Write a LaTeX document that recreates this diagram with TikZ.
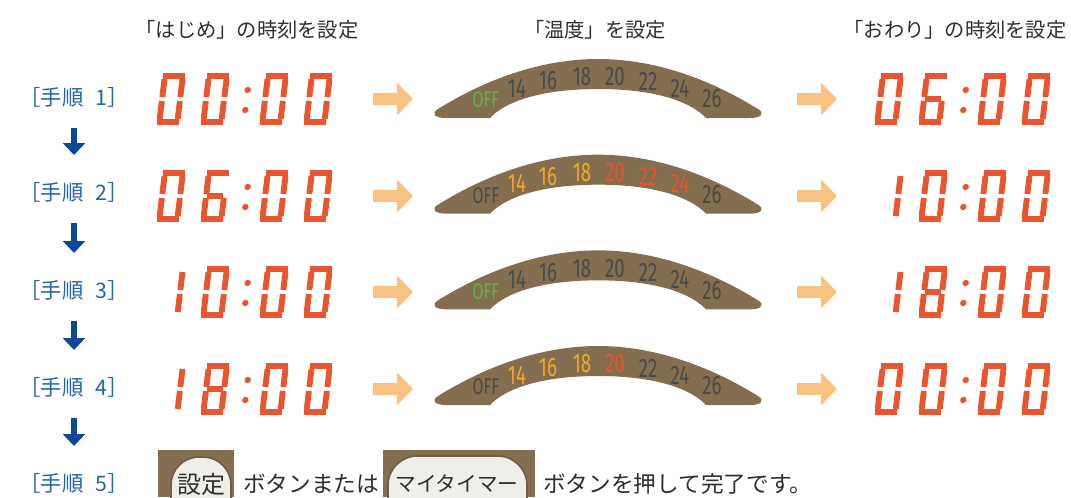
\documentclass[tikz,border=0pt]{standalone}
\usepackage{fontspec}
\usepackage{xcolor}
\usepackage{tikz}
\usetikzlibrary{arrows.meta,positioning,calc}
\newfontfamily\jpfont{Noto Sans CJK JP}
\newfontfamily\dialfont[FakeStretch=0.7]{Fira Sans}
\definecolor{segRed}{HTML}{E9552E}
\definecolor{arrOrange}{HTML}{F8C282}
\definecolor{dialBrown}{HTML}{836E50}
\definecolor{numGray}{HTML}{4A4A48}
\definecolor{numGreen}{HTML}{62B245}
\definecolor{numYellow}{HTML}{F4A52A}
\definecolor{numRed}{HTML}{E8552E}
\definecolor{stepBlue}{HTML}{2463AE}
\definecolor{arrBlue}{HTML}{0C4A95}
\definecolor{btnLight}{HTML}{EFEEE9}
\definecolor{txtGray}{HTML}{2E2E2E}

\tikzset{
  segline/.style={segRed, line width=4.4pt},
  header/.style={font=\jpfont\fontsize{15.2pt}{18pt}\selectfont, text=txtGray, inner sep=0pt},
  steplabel/.style={font=\jpfont\fontsize{16pt}{19pt}\selectfont, text=stepBlue, inner sep=0pt},
  steparrow/.style={arrBlue, line width=5pt, -{Triangle[width=16.5pt,length=9pt]},
    shorten <=23.25pt, shorten >=27.75pt},
  hotarrow/.style={arrOrange, line width=9.5pt, -{Triangle[width=24pt,length=12pt]}},
  dialnum/.style={font=\dialfont\fontsize{20pt}{20pt}\selectfont, inner sep=0pt},
  btntext/.style={font=\jpfont\fontsize{17pt}{20pt}\selectfont, text=txtGray, inner sep=0pt},
  btnpill/.style={fill=btnLight, draw=dialBrown!85!black, line width=1.2pt}
}
% seven segments, local box 24 x 52 (y up)
\pgfkeys{/seg/.cd,
  a/.code={\draw[segline] (1,49) -- (23,49);},
  b/.code={\draw[segline] (21,46) -- (21,28);},
  c/.code={\draw[segline] (21,24) -- (21,6);},
  d/.code={\draw[segline] (1,3) -- (23,3);},
  e/.code={\draw[segline] (3,24) -- (3,6);},
  f/.code={\draw[segline] (3,46) -- (3,28);},
  g/.code={\draw[segline] (4,26) -- (20,26);}
}
\pgfkeys{/digit/.cd,
  0/.code={\pgfkeys{/seg/a,/seg/b,/seg/c,/seg/d,/seg/e,/seg/f}},
  1/.code={\pgfkeys{/seg/b,/seg/c}},
  6/.code={\pgfkeys{/seg/a,/seg/c,/seg/d,/seg/e,/seg/f,/seg/g}},
  8/.code={\pgfkeys{/seg/a,/seg/b,/seg/c,/seg/d,/seg/e,/seg/f,/seg/g}}
}
\newcommand{\segdigit}[3]{%
  \begin{scope}[shift={(#1,#2)},yscale=-1,xslant=-0.12]
    \edef\segtmp{\noexpand\pgfkeys{/digit/#3}}\segtmp
  \end{scope}}
\newcommand{\segcolon}[2]{%
  \begin{scope}[shift={(#1,#2)},yscale=-1,xslant=-0.12]
    \fill[segRed] (0,35) circle[radius=2.4pt] (0,15) circle[radius=2.4pt];
  \end{scope}}
% #1 left x, #2 bottom y, #3-#6 digits
\newcommand{\clockface}[6]{%
  \segdigit{#1}{#2}{#3}\segdigit{#1+44}{#2}{#4}%
  \segcolon{#1+87.5}{#2}%
  \segdigit{#1+103}{#2}{#5}\segdigit{#1+147}{#2}{#6}}
% #1 row, #2..#9 colours of OFF,14,...,26
\newcommand{\tempdial}[9]{%
  \pgfmathsetmacro\db{118+95.67*(#1-1)}
  \fill[dialBrown] (490,\db) -- (446,\db) .. controls (434,\db) and (431,\db-5) .. (438,\db-9)
    .. controls (488,\db-40) and (543,\db-59) .. (598,\db-59)
    .. controls (653,\db-59) and (708,\db-40) .. (758,\db-9)
    .. controls (765,\db-5) and (762,\db) .. (750,\db) -- (706,\db)
    .. controls (691,\db-16) and (656,\db-29) .. (598,\db-29)
    .. controls (540,\db-29) and (505,\db-16) .. (490,\db) -- cycle;
  \node[dialnum,text=#2,font=\dialfont\fontsize{17pt}{17pt}\selectfont] (dial#1-off) at (486,\db-18) {OFF};
  \node[dialnum,text=#3] (dial#1-14) at (517,\db-30) {14};
  \node[dialnum,text=#4] (dial#1-16) at (548,\db-37) {16};
  \node[dialnum,text=#5] (dial#1-18) at (582,\db-41) {18};
  \node[dialnum,text=#6] (dial#1-20) at (615,\db-41) {20};
  \node[dialnum,text=#7] (dial#1-22) at (648,\db-37) {22};
  \node[dialnum,text=#8] (dial#1-24) at (680,\db-30) {24};
  \node[dialnum,text=#9] (dial#1-26) at (712,\db-19) {26};
}

\begin{document}
\begin{tikzpicture}[x=0.75pt,y=-0.75pt,>=Stealth]
\useasboundingbox (0,0) rectangle (1071,497);
% headers
\node[header] (hstart) at (247,30) {「はじめ」の時刻を設定};
\node[header] (htemp) at (595,30) {「温度」を設定};
\node[header] (hend) at (955,30) {「おわり」の時刻を設定};
% steps
\foreach \i/\y in {1/97,2/192,3/290,4/387,5/483}{
  \node[steplabel] (step\i) at (74,\y) {［手順\hspace{0.55em}\i］};
}
\foreach \i [evaluate=\i as \j using int(\i+1)] in {1,...,4}{
  \draw[steparrow] (step\i.center) -- (step\j.center);
}
% clocks and arrows
\foreach \r/\y/\la/\lb/\lc/\ld/\ra/\rb/\rc/\rd in
  {1/125/0/0/0/0/0/6/0/0, 2/222/0/6/0/0/1/0/0/0, 3/318/1/0/0/0/1/8/0/0, 4/415/1/8/0/0/0/0/0/0}{
  \clockface{156}{\y}{\la}{\lb}{\lc}{\ld}
  \clockface{874}{\y}{\ra}{\rb}{\rc}{\rd}
  \coordinate (ina\r) at (373,\y-26);
  \coordinate (outa\r) at (413,\y-26);
  \coordinate (inb\r) at (797,\y-26);
  \coordinate (outb\r) at (837,\y-26);
  \draw[hotarrow] (ina\r) -- (outa\r);
  \draw[hotarrow] (inb\r) -- (outb\r);
}
% dials
\tempdial{1}{numGreen}{numGray}{numGray}{numGray}{numGray}{numGray}{numGray}{numGray}
\tempdial{2}{numGray}{numYellow}{numYellow}{numYellow}{numRed}{numRed}{numRed}{numGray}
\tempdial{3}{numGreen}{numGray}{numGray}{numGray}{numGray}{numGray}{numGray}{numGray}
\tempdial{4}{numGray}{numYellow}{numYellow}{numYellow}{numRed}{numGray}{numGray}{numGray}
% buttons
\begin{scope}
  \clip (158,450) rectangle (234,497);
  \fill[dialBrown] (158,450) rectangle (234,497);
  \filldraw[btnpill, rounded corners=21pt] (171,457) rectangle (231,530);
\end{scope}
\node[btntext, font=\jpfont\fontsize{18pt}{20pt}\selectfont] (btnset) at (201,484) {設定};
\node[btntext, anchor=west] (txtor) at (243,484) {ボタンまたは};
\begin{scope}
  \clip (383,450) rectangle (535,497);
  \fill[dialBrown] (383,450) rectangle (535,497);
  \filldraw[btnpill, rounded corners=22pt] (388,456) rectangle (527,530);
\end{scope}
\node[btntext, font=\jpfont\fontsize{15.5pt}{18pt}\selectfont] (btnmy) at (457,484) {マイタイマー};
\node[btntext, anchor=west] (txtdone) at (543,484) {ボタンを押して完了です。};
\end{tikzpicture}
\end{document}
